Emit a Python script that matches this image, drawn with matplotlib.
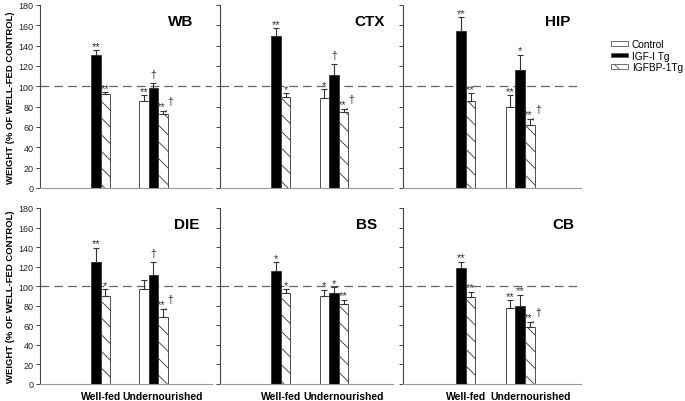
import matplotlib
matplotlib.use("Agg")
import matplotlib.pyplot as plt
from matplotlib.patches import Patch
import numpy as np

plt.rcParams['font.family'] = ['Liberation Sans', 'DejaVu Sans']
plt.rcParams['hatch.linewidth'] = 0.6
plt.rcParams['hatch.color'] = '#555555'

panels = ["WB", "CTX", "HIP", "DIE", "BS", "CB"]
groups = ["Well-fed", "Undernourished"]
series = ["Control", "IGF-I Tg", "IGFBP-1Tg"]

# values per panel: [wf_control(None), wf_igf, wf_igfbp, un_control, un_igf, un_igfbp]
values = {
    "WB":  [None, 131, 92, 86, 98, 73],
    "CTX": [None, 150, 90, 89, 111, 75],
    "HIP": [None, 154, 86, 80, 116, 62],
    "DIE": [None, 125, 90, 97, 111, 69],
    "BS":  [None, 116, 93, 89.5, 93.5, 81.5],
    "CB":  [None, 119, 88.5, 77.5, 79.5, 58.5],
}
errors = {
    "WB":  [0, 4.5, 2, 5, 5.5, 3],
    "CTX": [0, 7, 3, 8, 11, 3],
    "HIP": [0, 14, 7, 11, 15, 6],
    "DIE": [0, 14, 7, 9, 14, 8],
    "BS":  [0, 8.5, 4, 7, 5.5, 4.5],
    "CB":  [0, 6, 5.5, 8, 12, 5],
}
marks = {
    "WB":  ["", "**", "**", "**", "\u2020", "**,\u2020"],
    "CTX": ["", "**", "*", "*", "\u2020", "**,\u2020"],
    "HIP": ["", "**", "**", "**", "*", "**,\u2020"],
    "DIE": ["", "**", "*", "", "\u2020", "**,\u2020"],
    "BS":  ["", "*", "*", "*", "*", "**"],
    "CB":  ["", "**", "**", "**", "**", "**,\u2020"],
}
yticks = [0, 20, 40, 60, 80, 100, 120, 140, 160, 180]
ylabel = "WEIGHT (% OF WELL-FED CONTROL)"

title_x = [0.89, 0.95, 0.94, 0.925, 0.91, 0.96]

fig = plt.figure(figsize=(6.85, 4.02), dpi=100)
W, H = 685, 402
cols = [(40, 212), (220, 393), (403, 581)]
rows = [(6, 189), (209, 385)]

facecols = ["white", "black", "white"]
hatches = [None, None, "\\\\"]
w = 0.165
offsets = [-w, 0, w]
mk_color = '#333333'

for i, name in enumerate(panels):
    r, c = divmod(i, 3)
    x0, x1 = cols[c]
    y0, y1 = rows[r]
    ax = fig.add_axes([x0 / W, 1 - y1 / H, (x1 - x0) / W, (y1 - y0) / H])
    vals = values[name]
    errs = errors[name]
    for s in range(3):
        for g in range(2):
            k = g * 3 + s
            v = vals[k]
            if v is None:
                continue
            xpos = g + offsets[s]
            ax.bar(xpos, v, width=w, color=facecols[s], edgecolor='#333333',
                   linewidth=0.6, hatch=hatches[s], zorder=2)
            ax.errorbar(xpos, v, yerr=[[0], [errs[k]]], fmt='none',
                        ecolor='#333333', elinewidth=0.8, capsize=2,
                        capthick=0.8, zorder=3)
            m = marks[name][k]
            top = v + errs[k]
            if m:
                if ",\u2020" in m:
                    ax.text(xpos, top - 0.5, m.split(",")[0] + ",", ha='center',
                            va='bottom', fontsize=8, color=mk_color)
                    ax.text(xpos + 0.8 * w, top + 5, "\u2020", ha='center',
                            va='bottom', fontsize=7.5, color=mk_color)
                elif m == "\u2020":
                    ax.text(xpos, top + 4, m, ha='center', va='bottom',
                            fontsize=7.5, color=mk_color)
                else:
                    ax.text(xpos, top - 0.5, m, ha='center', va='bottom',
                            fontsize=8, color=mk_color)
    ax.axhline(100, color='#666666', linestyle=(0, (7, 4)), linewidth=0.9,
               zorder=1)
    ax.set_xlim(-0.97, 2.02)
    ax.set_ylim(0, 180)
    ax.set_yticks(yticks)
    for sp in ['top', 'right']:
        ax.spines[sp].set_visible(False)
    ax.spines['left'].set_color('#444444')
    ax.spines['left'].set_linewidth(0.8)
    ax.spines['bottom'].set_color('#999999')
    ax.spines['bottom'].set_linewidth(0.8)
    ax.tick_params(axis='y', direction='out', length=3, width=0.7,
                   colors='#444444', labelsize=6.5, labelcolor='#222222',
                   pad=1.5)
    if c != 0:
        ax.tick_params(axis='y', labelleft=False)
    else:
        ax.set_ylabel(ylabel, fontsize=6.8, fontweight='bold')
        ax.yaxis.set_label_coords(-0.145, 0.5)
    if r == 1:
        ax.set_xticks([0.09, 1.17])
        ax.set_xticklabels(groups, fontsize=7.5, fontweight='bold')
        ax.tick_params(axis='x', length=0, pad=5)
    else:
        ax.set_xticks([])
    ax.text(title_x[i], 0.95, name, transform=ax.transAxes, ha='right',
            va='top', fontsize=11, fontweight='bold')

handles = [Patch(facecolor=facecols[s], edgecolor='#555555', linewidth=0.6,
                 hatch=hatches[s], label=series[s]) for s in range(3)]
fig.legend(handles=handles, loc='upper left', bbox_to_anchor=(607 / W, 1 - 36 / H),
           frameon=False, fontsize=7.3, handlelength=1.7, handleheight=0.35,
           labelspacing=0.15, handletextpad=0.35, borderaxespad=0)

fig.savefig("out.png", dpi=100)
